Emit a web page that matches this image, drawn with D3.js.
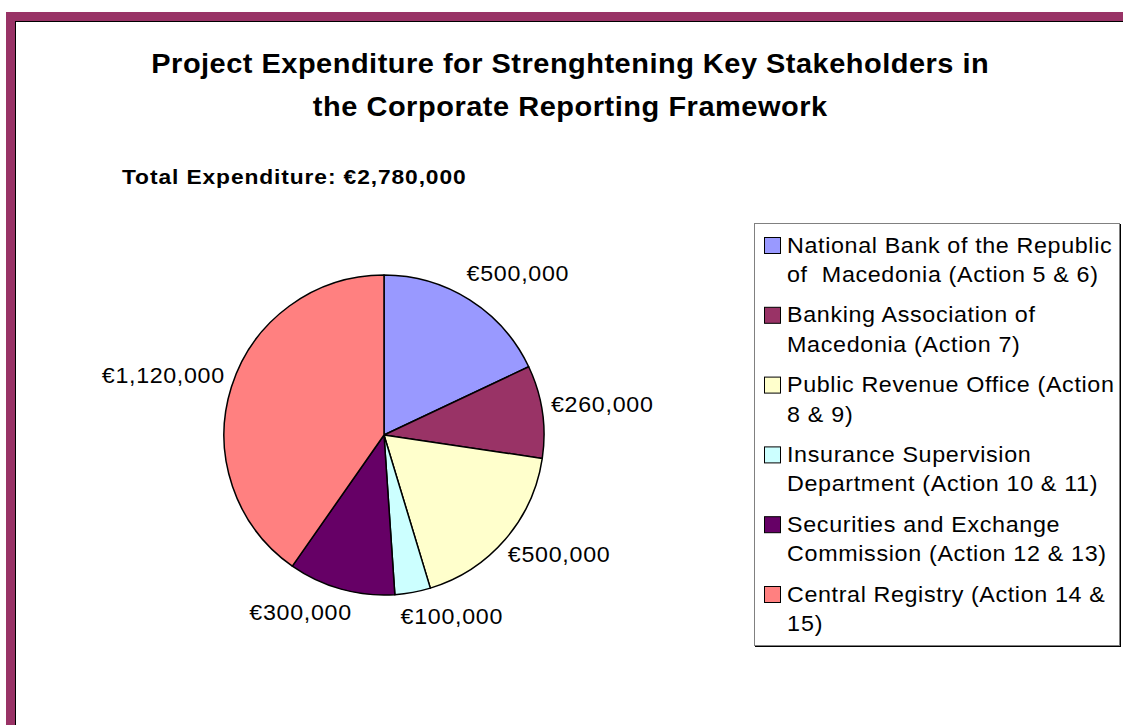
<!DOCTYPE html>
<html>
<head>
<meta charset="utf-8">
<script src="https://cdn.jsdelivr.net/npm/d3@7/dist/d3.min.js"></script>
<style>
  html, body { margin: 0; padding: 0; background: #fff; }
  svg { display: block; font-family: "Liberation Sans", Arial, sans-serif; }
</style>
</head>
<body>
<svg id="chart" width="1123" height="725"></svg>
<script>
const categories = [
  ["National Bank of the Republic", "of  Macedonia (Action 5 & 6)"],
  ["Banking Association of", "Macedonia (Action 7)"],
  ["Public Revenue Office (Action", "8 & 9)"],
  ["Insurance Supervision", "Department (Action 10 & 11)"],
  ["Securities and Exchange", "Commission (Action 12 & 13)"],
  ["Central Registry (Action 14 &", "15)"]
];
const values = [500000, 260000, 500000, 100000, 300000, 1120000];
const colors = ["#9999FF", "#993366", "#FFFFCC", "#CCFFFF", "#660066", "#FF8080"];
const titleLines = ["Project Expenditure for Strenghtening Key Stakeholders in", "the Corporate Reporting Framework"];
const subtitle = "Total Expenditure: €2,780,000";

const svg = d3.select("#chart");
const fmt = v => "€" + d3.format(",")(v);

// widen text to mimic the wide GDI rendering of the original:
// half by widening the glyphs, half by extra spacing
function widen(sel, k) {
  const gx = 1 + (k - 1) * 0.5;
  sel.each(function () {
    const el = d3.select(this);
    const w = this.__natural || this.getComputedTextLength();
    const x = +el.attr("x") || 0, y = +el.attr("y") || 0;
    el.attr("textLength", w * k / gx).attr("lengthAdjust", "spacing")
      .attr("transform", `translate(${x},${y}) scale(${gx},1) translate(${-x},${-y})`);
  });
}

// frame
svg.append("rect").attr("x", 6).attr("y", 12).attr("width", 1130).attr("height", 730)
  .attr("fill", "#993366");
svg.append("rect").attr("x", 15).attr("y", 21).attr("width", 1120).attr("height", 720)
  .attr("fill", "#000");
svg.append("rect").attr("x", 16).attr("y", 22).attr("width", 1120).attr("height", 720)
  .attr("fill", "#fff");

// title
svg.append("g").selectAll("text").data(titleLines).join("text")
  .attr("x", 570).attr("y", (d, i) => 73 + i * 43)
  .attr("text-anchor", "middle")
  .attr("font-weight", "bold").attr("font-size", 28)
  .text(d => d)
  .call(widen, 1.07);

svg.append("text").attr("x", 122).attr("y", 184)
  .attr("font-weight", "bold").attr("font-size", 21)
  .text(subtitle)
  .call(widen, 1.17);

// pie
const cx = 384, cy = 435, r = 160;
const pie = d3.pie().sort(null).value(d => d);
const arcs = pie(values);
const arc = d3.arc().innerRadius(0).outerRadius(r);
const g = svg.append("g").attr("transform", `translate(${cx},${cy})`);
g.selectAll("path").data(arcs).join("path")
  .attr("d", arc)
  .attr("fill", (d, i) => colors[i])
  .attr("stroke", "#000").attr("stroke-width", 1.5).attr("stroke-linejoin", "round");

// labels: outside the rim, offset along the mid-angle by the box half-size
const labelK = 1.11;
const labels = g.selectAll("text").data(arcs).join("text")
  .attr("text-anchor", "middle")
  .attr("font-size", 22)
  .text(d => fmt(d.data));
labels.each(function (d) {
  this.__natural = this.getComputedTextLength();
  const a = (d.startAngle + d.endAngle) / 2;
  const s = Math.sin(a), c = -Math.cos(a);
  const w = this.__natural * labelK, h = 15;
  const gap = 9 + 25 * (1 - Math.abs(s));
  const x = s * (r + w / 2) + Math.sign(s) * gap;
  const y = c * (r + h / 2 + 20) - 3;
  d3.select(this).attr("x", x).attr("y", y + h / 2);
});
labels.call(widen, labelK);

// legend
const lx = 754, ly = 223, lw = 365, lh = 422;
svg.append("rect").attr("x", lx + 1.5).attr("y", ly + 1.5).attr("width", lw).attr("height", lh)
  .attr("fill", "none").attr("stroke", "#000").attr("stroke-width", 1);
svg.append("rect").attr("x", lx + 0.5).attr("y", ly + 0.5).attr("width", lw).attr("height", lh)
  .attr("fill", "#fff").attr("stroke", "#808080").attr("stroke-width", 1);

const items = svg.append("g").selectAll("g").data(categories).join("g")
  .attr("transform", (d, i) => `translate(${lx}, ${ly + 22 + i * 69.8})`);
items.append("rect").attr("x", 10.5).attr("y", -7.5).attr("width", 16).attr("height", 16)
  .attr("fill", (d, i) => colors[i]).attr("stroke", "#000").attr("stroke-width", 1);
items.selectAll("text").data(d => d).join("text")
  .attr("x", 33).attr("y", (d, i) => 7.5 + i * 29.5)
  .attr("font-size", 22)
  .attr("xml:space", "preserve")
  .text(d => d)
  .call(widen, 1.12);
</script>
</body>
</html>
